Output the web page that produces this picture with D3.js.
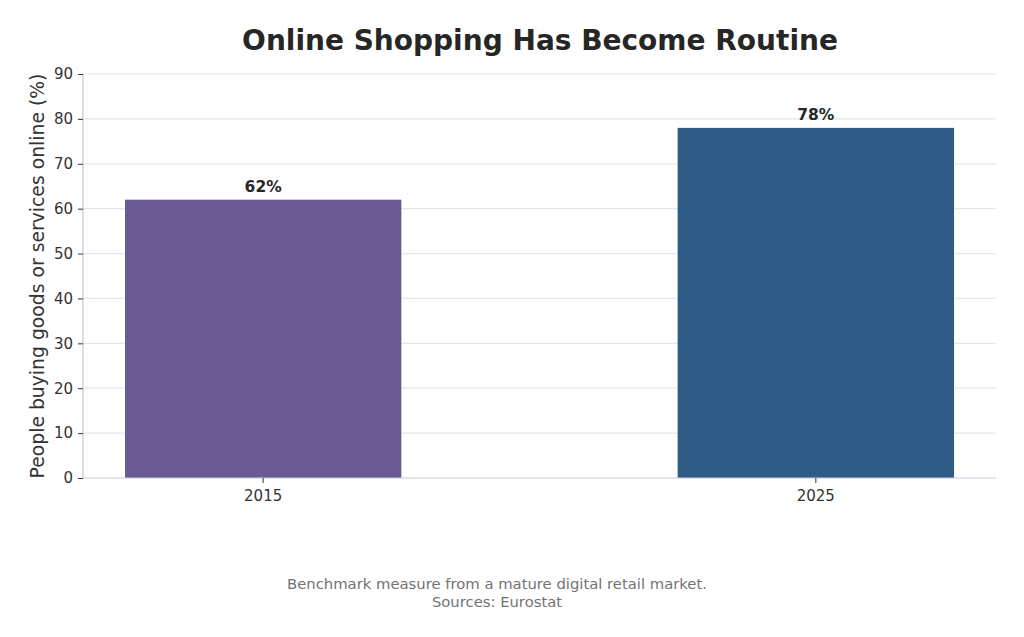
<!DOCTYPE html>
<html><head><meta charset="utf-8">
<script src="https://cdn.jsdelivr.net/npm/d3@7"></script>
<style>body{margin:0;background:#fff;}svg{display:block;font-family:"DejaVu Sans",sans-serif;}</style>
</head><body>
<svg id="c" width="1024" height="637"></svg>
<script>
const categories = ["2015", "2025"];
const values = [62, 78];
const barColors = ["#6a5a92", "#2f5c87"];
const yTicks = [0, 10, 20, 30, 40, 50, 60, 70, 80, 90];

const svg = d3.select("#c");
const m = {l: 83, r: 996, t: 74, b: 478};
const x = d3.scaleBand().domain(categories).range([m.l, m.r]).paddingInner(0.5).paddingOuter(0.076);
const y = d3.scaleLinear().domain([0, 90]).range([m.b, m.t]);

// grid
svg.append("g").selectAll("line").data(yTicks.filter(d => d > 0)).join("line")
  .attr("x1", m.l).attr("x2", m.r).attr("y1", d => y(d)).attr("y2", d => y(d))
  .attr("stroke", "#e3e6ee").attr("stroke-width", 1.2);

// bars
svg.append("g").selectAll("rect").data(categories).join("rect")
  .attr("x", d => x(d)).attr("width", x.bandwidth())
  .attr("y", (d, i) => y(values[i])).attr("height", (d, i) => y(0) - y(values[i]))
  .attr("fill", (d, i) => barColors[i]);

// value labels
svg.append("g").selectAll("text").data(categories).join("text")
  .attr("x", d => x(d) + x.bandwidth() / 2).attr("y", (d, i) => y(values[i]) - 8)
  .attr("text-anchor", "middle").style("font-size", "15.5px").attr("font-weight", "bold").attr("fill", "#262626")
  .text((d, i) => values[i] + "%");

// y axis
const ya = svg.append("g").attr("transform", `translate(${m.l},0)`)
  .call(d3.axisLeft(y).tickValues(yTicks).tickSize(5).tickPadding(5));
ya.attr("font-size", null).attr("font-family", null);
ya.select(".domain").attr("stroke", "#c5cad8").attr("stroke-width", 1.2).attr("d", `M0,${m.b}V${m.t}`);
ya.selectAll(".tick line").attr("stroke", "#333");
ya.selectAll(".tick text").style("font-size", "15px").attr("fill", "#333");

// x axis
const xa = svg.append("g").attr("transform", `translate(0,${m.b})`)
  .call(d3.axisBottom(x).tickSize(5).tickPadding(7));
xa.attr("font-size", null).attr("font-family", null);
xa.select(".domain").attr("stroke", "#c5cad8").attr("stroke-width", 1.2).attr("d", `M${m.l},0H${m.r}`);
xa.selectAll(".tick line").attr("stroke", "#333");
xa.selectAll(".tick text").style("font-size", "15px").attr("fill", "#333");

// title
svg.append("text").attr("x", 540).attr("y", 50).attr("text-anchor", "middle")
  .style("font-size", "28px").attr("font-weight", "bold").attr("fill", "#262626")
  .text("Online Shopping Has Become Routine");

// y label
svg.append("text").attr("transform", `translate(44,${(m.t + m.b) / 2}) rotate(-90)`)
  .attr("text-anchor", "middle").style("font-size", "18.8px").attr("fill", "#333")
  .text("People buying goods or services online (%)");

// footer
const foot = svg.append("text").attr("text-anchor", "middle").style("font-size", "14.8px").attr("fill", "#737373");
foot.append("tspan").attr("x", 497).attr("y", 589).text("Benchmark measure from a mature digital retail market.");
foot.append("tspan").attr("x", 497).attr("y", 607).text("Sources: Eurostat");
</script>
</body></html>
